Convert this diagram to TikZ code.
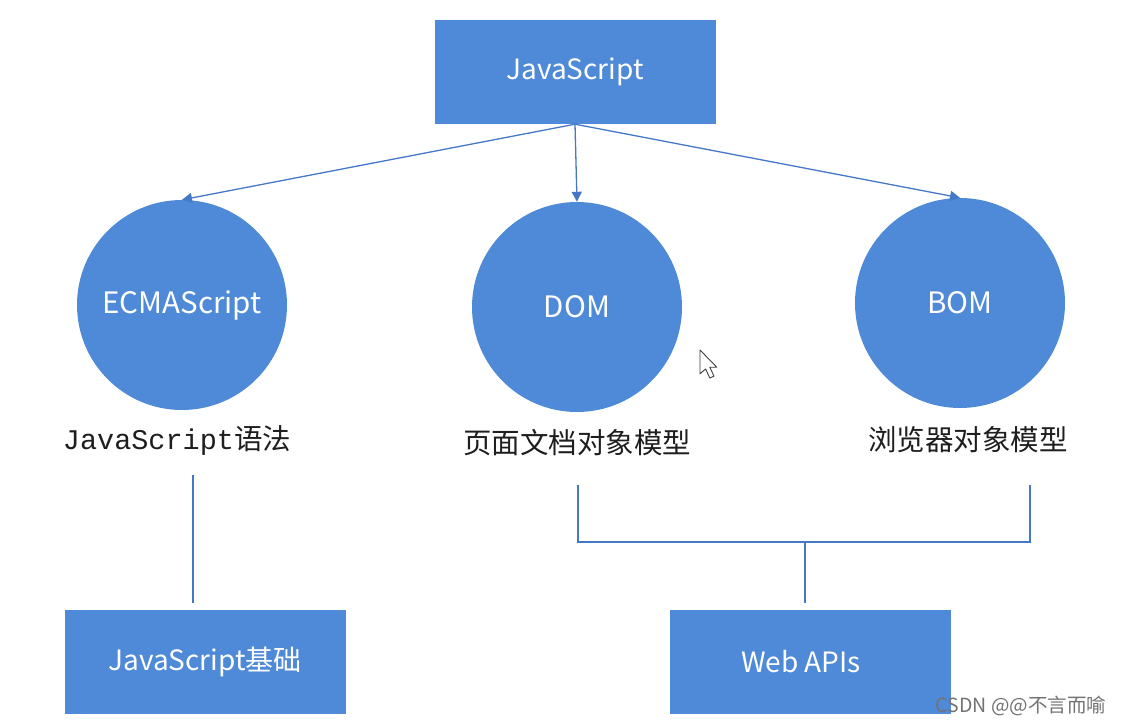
\documentclass[tikz,border=0pt]{standalone}
\usepackage{fontspec}
\setmainfont{Noto Sans CJK SC}
\newfontfamily\monofont{Liberation Mono}
\usetikzlibrary{arrows.meta}
\definecolor{jsblue}{RGB}{78,138,216}
\definecolor{lineblue}{RGB}{70,120,200}
\definecolor{labeltext}{RGB}{30,30,30}
\begin{document}
\begin{tikzpicture}[x=1pt,y=-1pt,
  jsbox/.style={rectangle, fill=jsblue, minimum width=281pt, minimum height=104pt, inner sep=0pt,
    text=white, font=\fontsize{28}{32}\selectfont},
  jscirc/.style={circle, fill=jsblue, minimum size=210pt, inner sep=0pt,
    text=white, font=\fontsize{29.5}{34}\selectfont},
  lbl/.style={text=labeltext, inner sep=0pt, font=\fontsize{28.5}{33}\selectfont},
  conn/.style={draw=lineblue, line width=1.3pt},
  arr/.style={conn, -{Triangle[length=10pt,width=10pt]}}]
\useasboundingbox (0,0) rectangle (1122,725);
\fill[white] (0,0) rectangle (1122,725);

\node[jsbox] (js) at (575,72) {JavaScript};
\node[jscirc] (ecma) at (182,305) {ECMAScript};
\node[jscirc] (dom) at (577,307) {DOM};
\node[jscirc] (bom) at (960,303) {BOM};

\node[lbl] (l1) at (177,440) {{\monofont JavaScript}语法};
\node[lbl] (l2) at (577,443) {页面文档对象模型};
\node[lbl] (l3) at (968,440) {浏览器对象模型};

\node[jsbox] (base) at (205,662) {JavaScript基础};
\node[jsbox] (web) at (810,662) {\hspace*{-18pt}Web APIs};

\draw[arr] (js.south) -- (ecma.north);
\draw[arr] (js.south) -- (dom.north);
\draw[arr] (js.south) -- (bom.north);

\coordinate (a1) at (193,475);
\coordinate (a2) at (193,603);
\coordinate (d1) at (578,485);
\coordinate (b1) at (1030,485);
\coordinate (mid) at (805,542);
\coordinate (w1) at (805,603);
\draw[conn] (a1) -- (a2);
\draw[conn] (d1) |- (mid) -| (b1);
\draw[conn] (mid) -- (w1);

% mouse cursor
\draw[fill=white, draw=black!75, line width=0.9pt, line join=round, shift={(700,350)}, scale=1.4]
  (0,0) -- (0,17) -- (4,13.5) -- (7,20) -- (10,18.7) -- (7,12.3) -- (12,12.3) -- cycle;

\node[text=black!55, inner sep=0pt, font=\fontsize{19.5}{22}\selectfont] (wm) at (1021,706) {CSDN @@不言而喻};
\end{tikzpicture}
\end{document}
